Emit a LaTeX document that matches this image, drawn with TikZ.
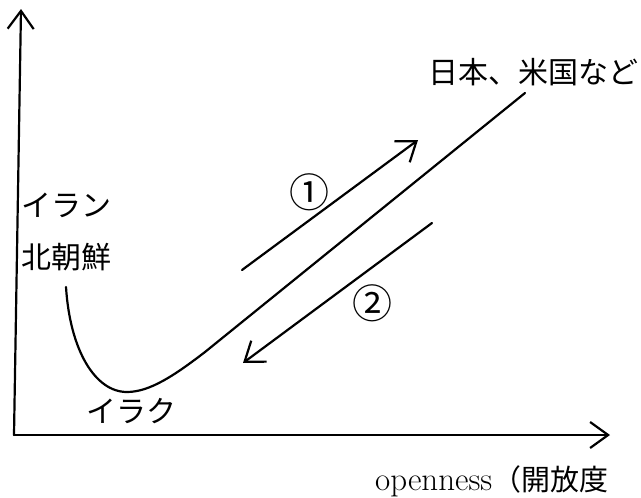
\documentclass[tikz,border=0pt]{standalone}
\usepackage{fontspec}
\newfontfamily\cjk{Noto Sans CJK JP}
\usetikzlibrary{arrows.meta}
\begin{document}
\begin{tikzpicture}[x=1pt,y=-1pt,
  ln/.style={line width=2.2pt,line cap=round,line join=round},
  arr/.style={ln,-{Straight Barb[length=18pt,width=26pt]}},
  jp/.style={font=\cjk\fontsize{30}{32}\selectfont,inner sep=0pt},
  circ/.style={font=\cjk\fontsize{40}{42}\selectfont,inner sep=0pt}]
\useasboundingbox (0,0) rectangle (641,498);
\coordinate (o) at (14,435);
\coordinate (ytop) at (21,9);
\coordinate (xend) at (610,435);
\draw[arr] (o) -- (ytop);
\draw[arr] (o) -- (xend);
% curve
\coordinate (cs) at (66,287);
\coordinate (cmin) at (127,392);
\coordinate (cj) at (205,352);
\coordinate (ce) at (525,93);
\draw[ln] (cs) .. controls (70,350) and (95,392) .. (cmin)
  .. controls (150,392) and (175,375) .. (cj) -- (ce);
% arrows 1 and 2
\coordinate (a1s) at (242,270);
\coordinate (a1e) at (418,140);
\coordinate (a2s) at (432,223);
\coordinate (a2e) at (243,363);
\draw[arr] (a1s) -- (a1e);
\draw[arr] (a2s) -- (a2e);
% labels
\node[circ] (n1) at (309,192) {①};
\node[circ] (n2) at (372,303) {②};
\node[jp,anchor=west] (jpus) at (428,72) {日本、米国など};
\node[jp,anchor=west] (iran) at (21,205) {イラン};
\node[jp,anchor=west] (nk) at (21,257) {北朝鮮};
\node[jp,anchor=west] (iraq) at (86,411) {イラク};
\node[anchor=base west,inner sep=0pt] (op) at (375,490) {{\fontsize{33}{36}\selectfont openness}{\cjk\fontsize{29}{32}\selectfont （開放度}};
\end{tikzpicture}
\end{document}
